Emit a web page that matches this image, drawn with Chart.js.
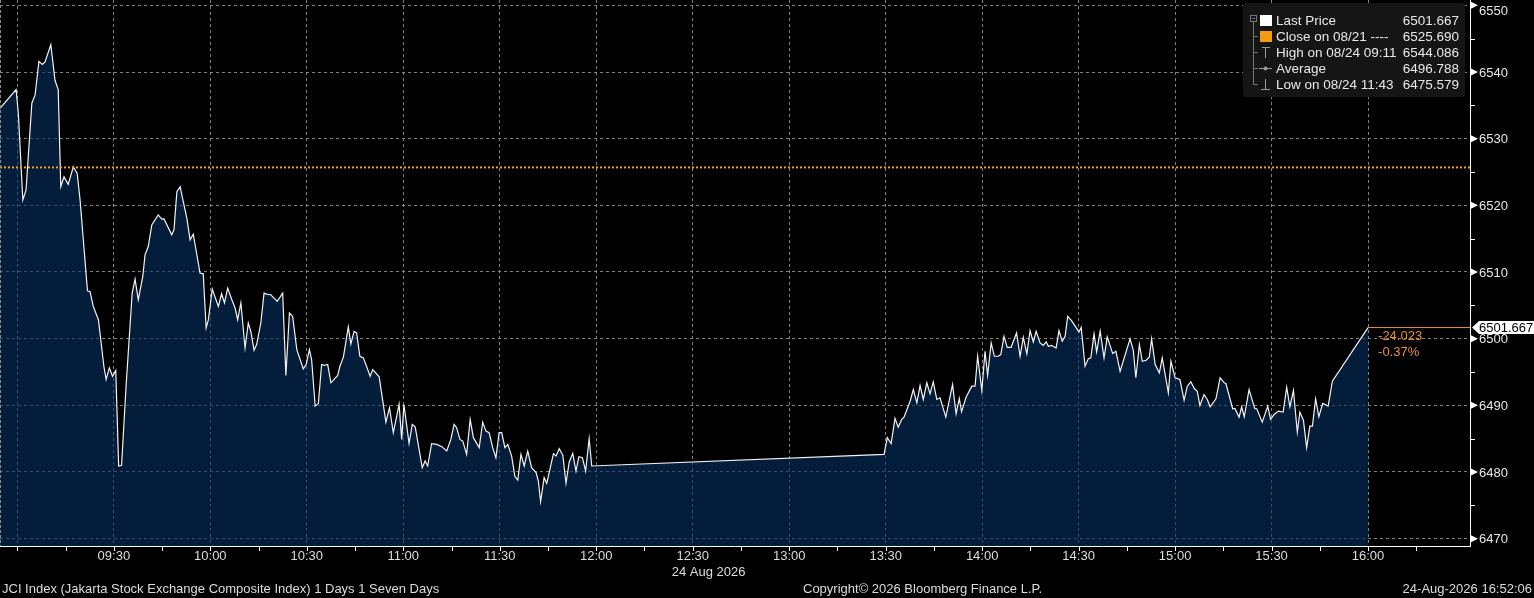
<!DOCTYPE html>
<html>
<head>
<meta charset="utf-8">
<title>JCI Index</title>
<script src="https://cdn.jsdelivr.net/npm/chart.js@4.4.1/dist/chart.umd.min.js"></script>
<style>
  html, body { margin: 0; padding: 0; background: #000; }
  #wrap { position: relative; width: 1534px; height: 598px; }
</style>
</head>
<body>
<div id="wrap"><canvas id="myChart"></canvas></div>
<script>
// intraday prices, time in minutes after midnight (24 Aug 2026)
const times = [
  534.6, 539.6, 540.3, 541.7, 542.7, 544.5, 545.5, 546.7, 547.8, 548.6,
  550.4, 551.7, 552.7, 553.5, 554.5, 555.8, 557.4, 558.6, 559.5, 561.8,
  562.6, 563.6, 565.2, 566.9, 567.6, 568.6, 569.6, 570.6, 571.5, 572.4,
  573.8, 575.7, 576.6, 577.6, 579.0, 579.7, 580.7, 581.8, 583.8, 584.9,
  585.6, 588.0, 588.7, 589.6, 590.6, 592.7, 593.7, 594.7, 596.8, 597.8,
  598.7, 599.4, 600.6, 602.5, 603.5, 604.4, 605.4, 606.7, 607.7, 608.5,
  609.5, 610.8, 611.8, 612.6, 613.6, 614.4, 615.7, 616.7, 617.5, 618.8,
  620.8, 622.5, 623.5, 624.6, 625.6, 626.9, 628.9, 629.8, 630.8, 631.5,
  632.6, 633.6, 634.6, 635.4, 636.5, 637.5, 639.6, 640.3, 641.4, 642.9,
  643.7, 644.7, 645.5, 646.5, 647.6, 649.7, 650.5, 652.5, 654.6, 655.7,
  656.9, 658.7, 659.5, 660.2, 661.8, 662.8, 663.7, 665.9, 666.8, 667.6,
  668.8, 670.4, 672.0, 673.5, 674.8, 675.8, 676.6, 677.6, 678.5, 679.7,
  680.8, 681.8, 683.6, 684.7, 685.7, 686.7, 687.8, 688.8, 689.8, 690.6,
  691.6, 692.5, 693.7, 694.7, 695.6, 696.6, 697.6, 698.7, 699.9, 701.3,
  702.0, 702.7, 703.8, 704.6, 706.7, 707.5, 708.5, 709.6, 710.6, 711.6,
  712.7, 713.7, 714.6, 715.7, 716.7, 717.8, 718.6, 809.5, 810.5, 811.7,
  812.9, 813.9, 815.0, 815.7, 817.6, 818.6, 819.7, 820.7, 821.7, 822.8,
  823.8, 824.8, 825.9, 826.9, 828.7, 830.8, 831.9, 832.9, 833.6, 835.0,
  836.8, 837.8, 838.6, 839.9, 840.9, 841.7, 842.8, 843.8, 845.0, 845.8,
  846.8, 847.8, 849.0, 850.7, 851.8, 852.8, 853.9, 854.9, 855.9, 856.8,
  858.0, 859.0, 859.9, 860.6, 861.6, 863.0, 863.9, 864.9, 865.8, 866.6,
  867.8, 870.1, 870.8, 872.0, 873.0, 873.8, 874.8, 875.6, 876.7, 877.9,
  878.9, 880.6, 881.6, 882.9, 886.0, 887.0, 887.8, 888.9, 889.8, 891.0,
  892.0, 892.7, 893.8, 895.1, 896.0, 897.9, 898.7, 900.0, 901.5, 902.8,
  903.8, 904.9, 906.0, 906.9, 907.7, 909.0, 910.0, 910.9, 912.7, 914.0,
  915.3, 915.8, 917.9, 918.6, 919.9, 920.7, 921.5, 923.0, 924.8, 925.4,
  927.1, 928.8, 929.7, 930.8, 932.1, 933.6, 934.7, 935.7, 936.8, 938.0,
  938.8, 939.9, 940.9, 941.9, 942.7, 943.7, 944.7, 945.9, 947.6, 948.9,
  960.0
];
const prices = [
  6534.53, 6537.37, 6533.82, 6520.80, 6522.30, 6535.32, 6536.52, 6541.60, 6541.15, 6541.50,
  6544.09, 6538.76, 6537.37, 6522.79, 6524.29, 6523.15, 6525.79, 6524.80, 6520.80, 6507.19,
  6507.04, 6504.84, 6502.85, 6495.86, 6493.87, 6495.62, 6494.36, 6495.22, 6480.90, 6481.00,
  6492.87, 6506.84, 6508.94, 6505.84, 6509.33, 6512.57, 6513.82, 6517.06, 6518.56, 6517.92,
  6517.96, 6515.57, 6516.32, 6522.05, 6522.79, 6518.07, 6514.82, 6515.67, 6509.84, 6509.73,
  6501.61, 6502.85, 6507.44, 6504.84, 6506.74, 6505.35, 6507.59, 6505.84, 6504.60, 6502.85,
  6505.35, 6498.61, 6502.35, 6501.10, 6498.26, 6499.11, 6502.35, 6506.84, 6506.69, 6506.59,
  6505.59, 6506.84, 6494.47, 6503.85, 6503.34, 6498.36, 6495.47, 6496.12, 6498.36, 6496.86,
  6489.88, 6490.28, 6496.12, 6496.01, 6496.12, 6493.38, 6494.47, 6495.86, 6497.27, 6501.76,
  6499.21, 6501.10, 6500.86, 6497.36, 6497.12, 6494.36, 6495.37, 6494.27, 6487.48, 6489.64,
  6485.90, 6490.13, 6484.89, 6490.13, 6484.29, 6487.14, 6486.79, 6480.66, 6481.65, 6480.90,
  6484.25, 6484.14, 6483.80, 6483.14, 6484.89, 6487.14, 6486.64, 6484.89, 6484.64, 6482.65,
  6487.89, 6485.15, 6483.65, 6487.48, 6486.13, 6485.90, 6483.65, 6482.15, 6485.90, 6485.90,
  6483.65, 6484.14, 6482.39, 6479.31, 6478.80, 6482.65, 6480.90, 6483.14, 6480.66, 6479.91,
  6478.65, 6475.58, 6479.16, 6478.31, 6482.75, 6482.39, 6483.50, 6482.54, 6478.31, 6481.50,
  6482.80, 6480.15, 6482.30, 6482.15, 6480.15, 6485.00, 6480.90, 6482.65, 6485.15, 6484.25,
  6488.04, 6486.73, 6487.89, 6488.23, 6490.62, 6492.37, 6490.38, 6492.97, 6490.88, 6493.38,
  6491.73, 6493.53, 6490.88, 6491.13, 6488.23, 6493.12, 6488.74, 6491.03, 6489.04, 6491.22,
  6492.87, 6492.87, 6497.36, 6492.22, 6498.11, 6494.51, 6499.36, 6497.36, 6497.36, 6497.61,
  6500.35, 6498.70, 6498.70, 6500.86, 6497.36, 6500.20, 6497.72, 6501.20, 6499.51, 6501.10,
  6499.36, 6499.00, 6499.51, 6498.85, 6499.00, 6498.61, 6501.20, 6499.60, 6500.35, 6503.34,
  6502.70, 6501.01, 6501.70, 6495.86, 6496.97, 6497.12, 6500.71, 6498.02, 6501.13, 6497.12,
  6500.26, 6497.76, 6498.11, 6495.11, 6499.96, 6498.25, 6494.13, 6499.11, 6496.61, 6496.76,
  6497.27, 6499.96, 6496.12, 6494.87, 6497.12, 6491.88, 6496.61, 6494.13, 6493.87, 6490.77,
  6492.87, 6493.53, 6492.48, 6492.12, 6489.98, 6491.63, 6490.88, 6489.79, 6490.98, 6494.13,
  6493.38, 6493.27, 6489.49, 6489.54, 6488.23, 6489.79, 6488.29, 6492.37, 6489.49, 6489.49,
  6487.48, 6489.88, 6487.89, 6488.63, 6489.13, 6488.98, 6492.72, 6489.79, 6492.22, 6485.99,
  6488.98, 6487.78, 6483.65, 6486.88, 6486.88, 6490.98, 6488.29, 6490.28, 6489.88, 6493.62,
  6501.667
];

const prevClose = 6525.690;
const lastPrice = 6501.667;
const netChange = "-24.023";
const pctChange = "-0.37%";

// axis ticks
const timeLabels = ["09:30", "10:00", "10:30", "11:00", "11:30", "12:00", "12:30",
  "13:00", "13:30", "14:00", "14:30", "15:00", "15:30", "16:00"];
const priceTicks = [6470, 6480, 6490, 6500, 6510, 6520, 6530, 6540, 6550];
const dateLabel = "24 Aug 2026";

// legend
const legendLabels = ["Last Price", "Close on 08/21 ----", "High on 08/24 09:11", "Average", "Low on 08/24 11:43"];
const legendValues = ["6501.667", "6525.690", "6544.086", "6496.788", "6475.579"];

const footerLeft = "JCI Index (Jakarta Stock Exchange Composite Index) 1 Days 1 Seven Days";
const footerMid = "Copyright\u00A9 2026 Bloomberg Finance L.P.";
const footerRight = "24-Aug-2026 16:52:06";

const X_MIN = 534.6, X_MAX = 991.7;
const Y_MIN = 6468.9, Y_MAX = 6550.8;
const FONT = '"Liberation Sans", Arial, sans-serif';
const GRID = "rgba(150,150,150,0.85)";
const ORANGE = "#f0a020";

function toMin(s) {
  const p = s.split(":");
  return parseInt(p[0]) * 60 + parseInt(p[1]);
}
function fmtMin(m) {
  const h = Math.floor(m / 60), mm = m % 60;
  return (h < 10 ? "0" : "") + h + ":" + (mm < 10 ? "0" : "") + mm;
}
const labelMins = timeLabels.map(toMin);

const pricePoints = times.map((t, i) => ({ x: t, y: prices[i] }));

// axis decorations, legend, footer
const bbgPlugin = {
  id: "bbg",
  afterDraw(chart) {
    const c = chart.ctx;
    const xs = chart.scales.x, ys = chart.scales.y;
    const area = chart.chartArea;
    c.save();

    // left edge
    c.strokeStyle = "#8a8a8a";
    c.lineWidth = 1;
    c.setLineDash([3, 2]);
    c.beginPath(); c.moveTo(0.5, area.top); c.lineTo(0.5, area.bottom); c.stroke();
    c.setLineDash([]);

    // y axis markers and labels
    c.strokeStyle = "#ffffff";
    for (let v = 6470; v <= 6550; v += 5) {
      const y = Math.round(ys.getPixelForValue(v)) + 0.5;
      if (v % 10 !== 0) {
        c.beginPath(); c.moveTo(area.right, y); c.lineTo(area.right + 5, y); c.stroke();
      }
    }
    c.font = "13px " + FONT;
    c.textAlign = "left";
    c.textBaseline = "middle";
    priceTicks.forEach(v => {
      const y = ys.getPixelForValue(v);
      c.fillStyle = "#ffffff";
      c.beginPath();
      c.moveTo(area.right + 1, y - 3.5);
      c.lineTo(area.right + 8, y);
      c.lineTo(area.right + 1, y + 3.5);
      c.closePath(); c.fill();
      c.fillStyle = "#e6e6e6";
      c.fillText(String(v), area.right + 9, Math.max(y, 10) + 1);
    });

    // x axis tick marks
    c.strokeStyle = "#ffffff";
    for (let m = 540; m <= 975; m += 15) {
      const x = Math.round(xs.getPixelForValue(m)) + 0.5;
      c.beginPath(); c.moveTo(x, area.bottom); c.lineTo(x, area.bottom + 5); c.stroke();
    }

    // date under 12:30
    c.fillStyle = "#dcdcdc";
    c.font = "13px " + FONT;
    c.textAlign = "left";
    c.fillText(dateLabel, xs.getPixelForValue(toMin("12:30")) - 21, 572);

    // footer
    c.fillText(footerLeft, 2, 589);
    c.fillText(footerMid, 803, 589);
    c.textAlign = "right";
    c.fillText(footerRight, 1532, 589);

    // last price tag
    const ly = ys.getPixelForValue(lastPrice);
    c.fillStyle = "#ffffff";
    c.beginPath();
    c.moveTo(area.right + 2, ly);
    c.lineTo(area.right + 9, ly - 6.5);
    c.lineTo(1534, ly - 6.5);
    c.lineTo(1534, ly + 6.5);
    c.lineTo(area.right + 9, ly + 6.5);
    c.closePath(); c.fill();
    c.fillStyle = "#000000";
    c.font = "13px " + FONT;
    c.textAlign = "left";
    c.fillText(lastPrice.toFixed(3), area.right + 9, ly + 1);

    // change text
    c.fillStyle = "#e8922e";
    const lx = xs.getPixelForValue(960) + 10;
    c.fillText(netChange, lx, ly + 9);
    c.fillText(pctChange, lx, ly + 25);

    // legend box
    c.fillStyle = "#151515";
    c.beginPath();
    c.roundRect(1243, 3, 222, 94, 3);
    c.fill();
    const rowY = [20.5, 36.5, 52.5, 68.5, 84.5];
    c.strokeStyle = "#777777";
    c.lineWidth = 1;
    c.strokeRect(1250.5, 15.5, 6, 6);
    c.beginPath();
    c.moveTo(1252, 18.5); c.lineTo(1255, 18.5);
    c.moveTo(1253.5, 22); c.lineTo(1253.5, rowY[4]);
    for (let i = 1; i < 5; i++) { c.moveTo(1253.5, rowY[i]); c.lineTo(1258, rowY[i]); }
    c.stroke();
    // icons
    c.fillStyle = "#ffffff"; c.fillRect(1260, 15, 12, 11);
    c.fillStyle = "#f39c12"; c.fillRect(1260, 31, 12, 11);
    c.strokeStyle = "#999999";
    c.beginPath();
    c.moveTo(1262, 47.5); c.lineTo(1270, 47.5);
    c.moveTo(1265.5, 47.5); c.lineTo(1265.5, 58);
    c.moveTo(1259, 68.5); c.lineTo(1272, 68.5);
    c.moveTo(1265.5, 79); c.lineTo(1265.5, 89.5);
    c.moveTo(1261, 89.5); c.lineTo(1270, 89.5);
    c.stroke();
    c.fillStyle = "#999999";
    c.beginPath(); c.arc(1265.5, 68.5, 2, 0, Math.PI * 2); c.fill();
    // legend text
    c.font = "13.5px " + FONT;
    c.fillStyle = "#e8e8e8";
    legendLabels.forEach((t, i) => {
      c.textAlign = "left";
      c.fillText(t, 1276, rowY[i] + 1);
      c.textAlign = "right";
      c.fillText(legendValues[i], 1459, rowY[i] + 1);
    });

    c.restore();
  }
};

const config = {
  type: "line",
  data: {
    datasets: [
      {
        label: "Close on 08/21",
        data: [{ x: X_MIN, y: prevClose }, { x: X_MAX, y: prevClose }],
        borderColor: ORANGE,
        borderWidth: 2,
        borderDash: [2, 2],
        pointRadius: 0,
        fill: false,
        order: 0,
      },
      {
        label: "Last",
        data: [{ x: 960, y: lastPrice }, { x: X_MAX, y: lastPrice }],
        borderColor: "#e8922e",
        borderWidth: 1,
        pointRadius: 0,
        fill: false,
        order: 1,
      },
      {
        label: "Last Price",
        data: pricePoints,
        borderColor: "#f2f2f2",
        borderWidth: 1.2,
        backgroundColor: "rgba(5,48,97,0.6)",
        fill: "start",
        pointRadius: 0,
        tension: 0,
        order: 2,
      },
    ],
  },
  options: {
    responsive: true,
    maintainAspectRatio: false,
    animation: false,
    layout: { padding: 0 },
    plugins: { legend: { display: false }, tooltip: { enabled: false } },
    scales: {
      x: {
        type: "linear",
        min: X_MIN,
        max: X_MAX,
        afterBuildTicks: (s) => {
          const t = [];
          for (let m = 540; m <= 975; m += 15) t.push({ value: m });
          s.ticks = t;
        },
        afterFit: (s) => { s.height = 52; s.paddingLeft = 0; s.paddingRight = 0; },
        grid: {
          color: (ctx) => (ctx.tick && ctx.tick.value % 30 === 0 && ctx.tick.value <= 960) ? GRID : "transparent",
          drawTicks: false,
          lineWidth: 1,
        },
        border: { display: true, color: "#ffffff", width: 1, dash: [3, 3] },
        ticks: {
          autoSkip: false,
          maxRotation: 0,
          padding: 3,
          color: "#dcdcdc",
          font: { family: FONT, size: 13 },
          callback: (v) => labelMins.includes(v) ? fmtMin(v) : "",
        },
      },
      y: {
        position: "right",
        min: Y_MIN,
        max: Y_MAX,
        afterBuildTicks: (s) => {
          const t = [];
          for (let v = 6470; v <= 6550; v += 5) t.push({ value: v });
          s.ticks = t;
        },
        afterFit: (s) => { s.width = 64; s.paddingTop = 0; s.paddingBottom = 0; },
        grid: {
          color: (ctx) => (ctx.tick && ctx.tick.value % 10 === 0) ? GRID : "transparent",
          drawTicks: false,
          lineWidth: 1,
        },
        border: { display: true, color: "#ffffff", width: 1, dash: [3, 3] },
        ticks: { display: false },
      },
    },
  },
  plugins: [bbgPlugin],
};

const myChart = new Chart(document.getElementById("myChart"), config);
</script>
</body>
</html>
